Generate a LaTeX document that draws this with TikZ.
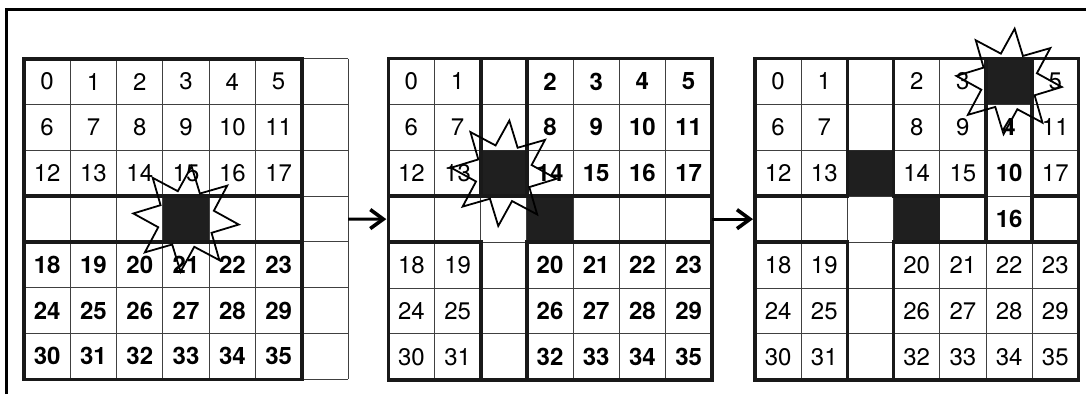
\documentclass[tikz,border=0pt]{standalone}
\usepackage{fontspec}
\setmainfont{TeX Gyre Heros}
\usetikzlibrary{arrows.meta}
\tikzset{
  cellline/.style={line width=1pt, black!75},
  wall/.style={line width=3.6pt, black!90, line cap=rect},
  hole/.style={fill=black!88},
  burst/.style={line width=1.8pt, line join=miter},
  num/.style={font=\fontsize{24}{24}\selectfont},
  numb/.style={font=\fontsize{24}{24}\selectfont\bfseries},
  flow/.style={line width=3pt, -{Straight Barb[length=13pt,width=19pt,line width=3.6pt]}},
  frame/.style={line width=3pt}
}
% star round a cell, centre given in cell units
\newcommand{\burst}[1]{%
  \begin{scope}[shift={#1}, x=1pt, y=1pt]
  \draw[burst] (-6:53) \foreach \k [evaluate=\k as \ang using {-6+\k*22.5},
    evaluate=\k as \rad using {53-24*mod(\k,2)}] in {1,...,15} { -- (\ang:\rad) } -- cycle;
  \end{scope}}
\begin{document}
\begin{tikzpicture}[x=1pt, y=-1pt]
\useasboundingbox (0,0) rectangle (1086,394);
\draw[frame] (6,394) -- (6,9) -- (1086,9);

% first grid
\begin{scope}[shift={(24pt,-58.7pt)}, x=46.3pt, y=-45.8pt]
\foreach \i in {0,...,7} \draw[cellline] (\i,0) -- (\i,7) (0,\i) -- (7,\i);
\fill[hole] (3,3) rectangle (4,4);
\draw[wall] (0,0) rectangle (6,7) (0,3) -- (6,3) (0,4) -- (6,4);
\foreach \r in {0,1,2} \foreach \c in {0,...,5} {
  \pgfmathtruncatemacro\n{6*\r+\c}
  \node[num] (a\n) at (\c+0.5,\r+0.5) {\n};}
\foreach \r in {4,5,6} \foreach \c in {0,...,5} {
  \pgfmathtruncatemacro\n{6*\r+\c-6}
  \node[numb] (a\n) at (\c+0.5,\r+0.5) {\n};}
\burst{(3.5,3.5)}
\coordinate (aout) at (7,3.5);
\end{scope}

% second grid
\begin{scope}[shift={(388.3pt,-58.5pt)}, x=46.2pt, y=-45.9pt]
\foreach \i in {0,...,7} \draw[cellline] (\i,0) -- (\i,7) (0,\i) -- (7,\i);
\fill[hole] (2,2) rectangle (3,3) (3,3) rectangle (4,4);
\draw[wall] (0,0) rectangle (7,7)
  (2,0) -- (2,3) (2,4) -- (2,7) (3,0) -- (3,3) (3,4) -- (3,7)
  (0,3) -- (7,3) (0,4) -- (2,4) (3,4) -- (7,4);
\foreach \c in {0,1} {
  \foreach \r in {0,1,2} {
    \pgfmathtruncatemacro\n{6*\r+\c}
    \node[num] (b\n) at (\c+0.5,\r+0.5) {\n};}
  \foreach \r in {4,5,6} {
    \pgfmathtruncatemacro\n{6*\r+\c-6}
    \node[num] (b\n) at (\c+0.5,\r+0.5) {\n};}}
\foreach \c in {3,...,6} {
  \foreach \r in {0,1,2} {
    \pgfmathtruncatemacro\n{6*\r+\c-1}
    \node[numb] (b\n) at (\c+0.5,\r+0.5) {\n};}
  \foreach \r in {4,5,6} {
    \pgfmathtruncatemacro\n{6*\r+\c-7}
    \node[numb] (b\n) at (\c+0.5,\r+0.5) {\n};}}
\burst{(2.5,2.5)}
\coordinate (bin) at (0,3.5);
\coordinate (bout) at (7,3.5);
\end{scope}

% third grid
\begin{scope}[shift={(755pt,-58.5pt)}, x=46.2pt, y=-45.9pt]
\foreach \i in {0,...,7} \draw[cellline] (\i,0) -- (\i,7) (0,\i) -- (7,\i);
\fill[hole] (2,2) rectangle (3,3) (3,3) rectangle (4,4) (5,0) rectangle (6,1);
\draw[wall] (0,0) rectangle (7,7)
  (2,0) -- (2,3) (2,4) -- (2,7) (3,0) -- (3,3) (3,4) -- (3,7)
  (5,0) -- (5,4) (6,0) -- (6,4)
  (0,3) -- (2,3) (3,3) -- (5,3) (6,3) -- (7,3)
  (0,4) -- (2,4) (3,4) -- (7,4);
\foreach \c in {0,1} {
  \foreach \r in {0,1,2} {
    \pgfmathtruncatemacro\n{6*\r+\c}
    \node[num] (c\n) at (\c+0.5,\r+0.5) {\n};}
  \foreach \r in {4,5,6} {
    \pgfmathtruncatemacro\n{6*\r+\c-6}
    \node[num] (c\n) at (\c+0.5,\r+0.5) {\n};}}
\foreach \c in {3,4,6} \foreach \r in {0,1,2} {
  \pgfmathtruncatemacro\n{6*\r+\c-1}
  \node[num] (c\n) at (\c+0.5,\r+0.5) {\n};}
\foreach \c in {3,...,6} \foreach \r in {4,5,6} {
  \pgfmathtruncatemacro\n{6*\r+\c-7}
  \node[num] (c\n) at (\c+0.5,\r+0.5) {\n};}
\foreach \r in {1,2,3} {
  \pgfmathtruncatemacro\n{6*\r-2}
  \node[numb] (c\n) at (5.5,\r+0.5) {\n};}
\burst{(5.5,0.5)}
\coordinate (cin) at (0,3.5);
\end{scope}

\draw[flow, shorten >=2pt] (aout) -- (bin);
\draw[flow, shorten >=2pt] (bout) -- (cin);
\end{tikzpicture}
\end{document}
